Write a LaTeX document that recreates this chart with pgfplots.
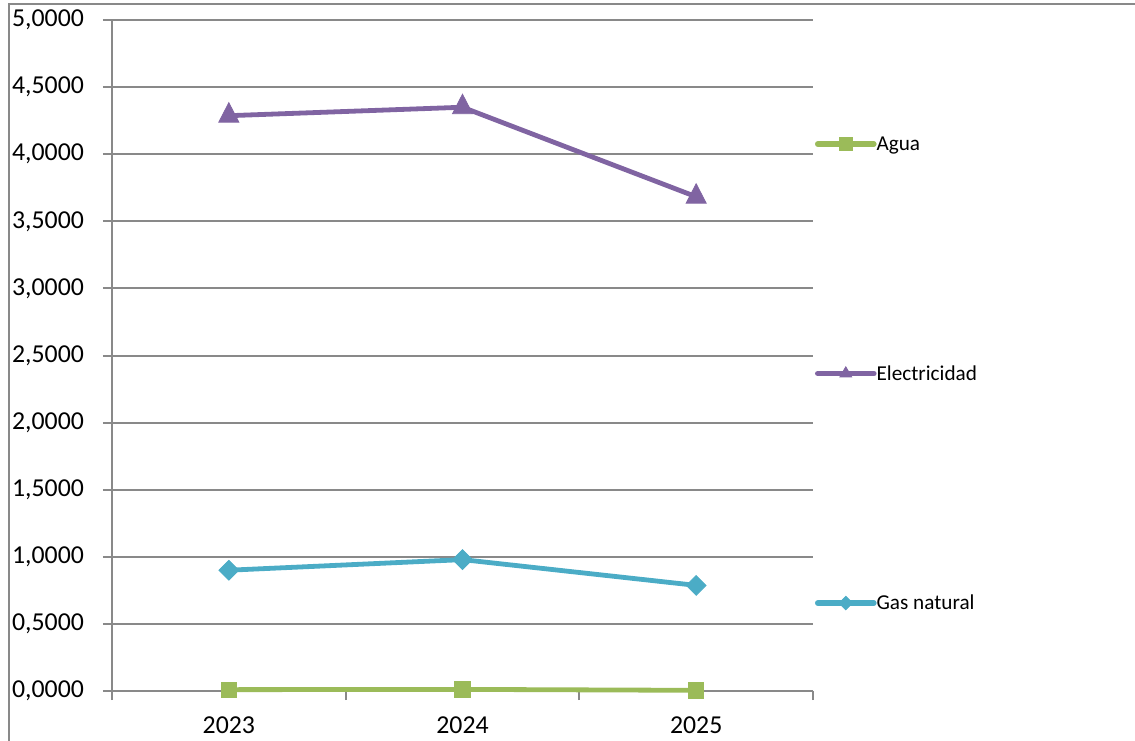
\documentclass[border=0pt]{standalone}
\usepackage{fontspec}
\setmainfont{Carlito}
\usepackage{pgfplots}
\pgfplotsset{compat=1.18}
\definecolor{elec}{HTML}{8064A2}
\definecolor{gas}{HTML}{4BACC6}
\definecolor{agua}{HTML}{9BBB59}
\definecolor{gridc}{HTML}{898989}
\begin{document}
\begin{tikzpicture}
\useasboundingbox (0,0) rectangle (567.5pt,370pt);
\draw[gridc, line width=1pt] (4.5pt,-2pt) -- (4.5pt,368pt) -- (570pt,368pt);
\begin{axis}[
  at={(56pt,24.5pt)}, anchor=south west,
  scale only axis, width=350.5pt, height=335.5pt,
  xmin=-0.5, xmax=2.5, ymin=0, ymax=5,
  xtick={0,1,2}, xticklabels={2023,2024,2025},
  minor xtick={-0.5,0.5,1.5,2.5},
  ytick={0,0.5,1,1.5,2,2.5,3,3.5,4,4.5,5},
  ymajorgrids,
  axis x line*=bottom, axis y line*=left,
  axis line style={gridc, line width=1pt},
  tick align=outside,
  major tick length=4.5pt, minor tick length=4.5pt,
  tick style={gridc, line width=1pt},
  major x tick style={draw=none},
  major grid style={gridc, line width=1pt},
  /pgf/number format/assume math mode=true,
  ticklabel style={font=\fontsize{12.9}{15}\selectfont, black},
  yticklabel style={xshift=-6pt, /pgf/number format/.cd, fixed, fixed zerofill, precision=4, use comma},
  xticklabel style={anchor=north, inner sep=0pt, yshift=-8pt},
  clip=false,
  legend image code/.code={\draw[mark repeat=2,mark phase=2,line cap=round,#1] plot coordinates {(0pt,3.3pt) (14pt,3.3pt) (28pt,3.3pt)};},
  legend style={draw=none, fill=none, inner sep=0pt, outer sep=0pt,
    at={(1.00285,0.8276)}, anchor=north west,
    row sep=104.75pt, column sep=0pt,
    font=\fontsize{10.6}{12}\selectfont,
    nodes={inner sep=0pt, text height=7.5pt, text depth=2.5pt, anchor=base west}},
  legend cell align=left,
]
\addplot[agua, line width=2.4pt, mark=square*, mark size=3.8pt, mark options={fill=agua, draw=agua, line width=0.4pt}, forget plot]
  coordinates {(0,0.010) (1,0.012) (2,0.005)};
\addplot[elec, line width=2.4pt, mark=triangle*, mark size=5.8pt, mark options={fill=elec, draw=elec, yscale=1.12, line width=0.4pt}, forget plot]
  coordinates {(0,4.287) (1,4.350) (2,3.683)};
\addplot[gas, line width=2.4pt, mark=square*, mark size=3.5pt, mark options={fill=gas, draw=gas, rotate=45, line width=0.4pt}, forget plot]
  coordinates {(0,0.900) (1,0.979) (2,0.787)};
\addlegendimage{agua, line width=2.8pt, mark=square*, mark size=3.1pt, mark options={fill=agua, draw=agua, line width=0.4pt}}
\addlegendentry{Agua}
\addlegendimage{elec, line width=2.8pt, mark=triangle*, mark size=3.4pt, mark options={fill=elec, draw=elec, line width=0.4pt}}
\addlegendentry{Electricidad}
\addlegendimage{gas, line width=2.8pt, mark=square*, mark size=2.4pt, mark options={fill=gas, draw=gas, rotate=45, line width=0.4pt}}
\addlegendentry{Gas natural}
\end{axis}
\end{tikzpicture}
\end{document}
